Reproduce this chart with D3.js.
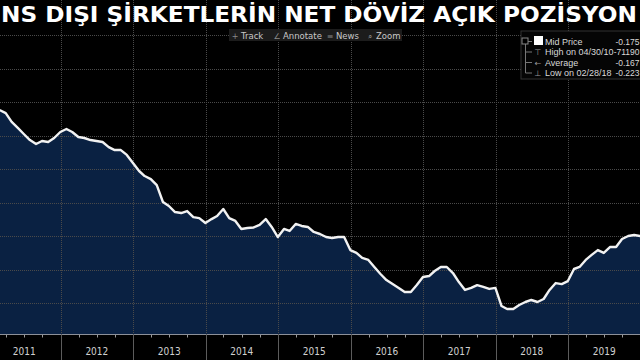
<!DOCTYPE html>
<html>
<head>
<meta charset="utf-8">
<script src="https://cdn.jsdelivr.net/npm/d3@7/dist/d3.min.js"></script>
<style>
html,body{margin:0;padding:0;background:#000;overflow:hidden;}
svg{display:block;}
</style>
</head>
<body>
<svg id="chart" width="640" height="360"></svg>
<script>
// ---- data (billion USD, month-end) ----
const titleText = "NS DIŞI ŞİRKETLERİN NET DÖVİZ AÇIK POZİSYON";
const months = [
 "2011-01","2011-02","2011-03","2011-04","2011-05","2011-06","2011-07","2011-08","2011-09","2011-10","2011-11","2011-12",
 "2012-01","2012-02","2012-03","2012-04","2012-05","2012-06","2012-07","2012-08","2012-09","2012-10","2012-11","2012-12",
 "2013-01","2013-02","2013-03","2013-04","2013-05","2013-06","2013-07","2013-08","2013-09","2013-10","2013-11","2013-12",
 "2014-01","2014-02","2014-03","2014-04","2014-05","2014-06","2014-07","2014-08","2014-09","2014-10","2014-11","2014-12",
 "2015-01","2015-02","2015-03","2015-04","2015-05","2015-06","2015-07","2015-08","2015-09","2015-10","2015-11","2015-12",
 "2016-01","2016-02","2016-03","2016-04","2016-05","2016-06","2016-07","2016-08","2016-09","2016-10","2016-11","2016-12",
 "2017-01","2017-02","2017-03","2017-04","2017-05","2017-06","2017-07","2017-08","2017-09","2017-10","2017-11","2017-12",
 "2018-01","2018-02","2018-03","2018-04","2018-05","2018-06","2018-07","2018-08","2018-09","2018-10","2018-11","2018-12",
 "2019-01","2019-02","2019-03","2019-04","2019-05","2019-06","2019-07","2019-08","2019-09","2019-10","2019-11","2019-12"
];
const values = [
 -103.0,-104.8,-106.6,-111.9,-115.5,-119.1,-122.7,-125.1,-123.3,-123.9,-121.5,-117.9,
 -116.1,-117.9,-120.9,-121.5,-122.7,-123.3,-123.9,-126.9,-128.7,-128.7,-131.6,-136.4,
 -141.2,-144.2,-146.0,-149.6,-159.7,-162.1,-165.7,-166.3,-165.1,-168.7,-169.3,-172.2,
 -169.9,-168.1,-163.9,-169.3,-171.0,-175.8,-175.2,-174.9,-173.4,-169.9,-174.6,-180.6,
 -175.8,-177.0,-172.8,-174.0,-174.6,-177.6,-178.8,-180.6,-181.2,-180.6,-180.6,-188.4,
 -190.1,-193.1,-194.3,-198.5,-202.7,-206.3,-208.7,-211.0,-213.4,-213.4,-209.3,-204.5,
 -203.9,-200.9,-198.5,-198.5,-202.1,-207.5,-212.2,-211.0,-209.3,-210.4,-211.6,-211.0,
 -221.8,-223.6,-223.6,-221.2,-219.4,-218.2,-219.4,-217.6,-212.2,-208.1,-208.7,-206.9,
 -199.7,-198.5,-194.3,-191.3,-188.4,-190.1,-186.6,-186.6,-181.8,-180.0,-179.4,-180.0
];
const yearLabels = ["2011","2012","2013","2014","2015","2016","2017","2018","2019"];
const gridValues = [-60,-80,-100,-120,-140,-160,-180,-200,-220];
const toolbarItems = [
 {icon:"+", label:"Track"},
 {icon:"\u2220", label:"Annotate"},
 {icon:"\u2261", label:"News"},
 {icon:"\u2315", label:"Zoom"}
];
const legendRows = [
 {label:"Mid Price", value:"-0.175"},
 {label:"High on 04/30/10", value:"-71190"},
 {label:"Average", value:"-0.167"},
 {label:"Low on 02/28/18", value:"-0.223"}
];

// ---- layout ----
const W = 640, H = 360;
const plotTop = 0, plotBottom = 334;
const svg = d3.select("#chart");

const parse = s => { const [yy, mm] = s.split("-").map(Number); return new Date(yy, mm, 0); };
const data = months.map((m, i) => ({date: parse(m), value: values[i]}));

const x = d3.scaleTime()
  .domain([new Date(2012,0,1), new Date(2020,0,1)])
  .range([60.5, 640.5]);
const y = d3.scaleLinear().domain([-220, -60]).range([303, 35]);

svg.append("rect").attr("width", W).attr("height", H).attr("fill", "#000");

svg.append("defs").append("clipPath").attr("id","plotclip")
  .append("rect").attr("x",0).attr("y",plotTop).attr("width",W).attr("height",plotBottom-plotTop);

const plot = svg.append("g").attr("clip-path","url(#plotclip)");

// area
plot.append("path").datum(data)
  .attr("fill","#0a2142")
  .attr("d", d3.area().x(d => x(d.date)).y0(plotBottom).y1(d => y(d.value)));

// grid
const yearStarts = d3.range(2011, 2021).map(yy => new Date(yy,0,1));
plot.selectAll("line.hg").data(gridValues).enter().append("line")
  .attr("x1",0).attr("x2",W)
  .attr("y1", d => Math.round(y(d))+0.5).attr("y2", d => Math.round(y(d))+0.5)
  .attr("stroke","#4a4a4a").attr("stroke-width",1).attr("stroke-dasharray","1,1");
plot.selectAll("line.vg").data(yearStarts).enter().append("line")
  .attr("x1", d => Math.round(x(d))+0.5).attr("x2", d => Math.round(x(d))+0.5)
  .attr("y1",plotTop).attr("y2",plotBottom)
  .attr("stroke","#4a4a4a").attr("stroke-width",1).attr("stroke-dasharray","1,1");

// line
plot.append("path").datum(data)
  .attr("fill","none").attr("stroke","#f2f2f2").attr("stroke-width",2.4)
  .attr("stroke-linejoin","round")
  .attr("d", d3.line().x(d => x(d.date)).y(d => y(d.value)));

// x axis
const axisG = svg.append("g");
axisG.append("line").attr("x1",0).attr("x2",W).attr("y1",plotBottom+0.5).attr("y2",plotBottom+0.5)
  .attr("stroke","#8c9099").attr("stroke-width",1);
const quarterTicks = [];
yearStarts.forEach(d => { [3,6,9].forEach(m => quarterTicks.push(new Date(d.getFullYear(), m, 1))); });
axisG.selectAll("line.qt").data(quarterTicks).enter().append("line")
  .attr("x1", d => Math.round(x(d))+0.5).attr("x2", d => Math.round(x(d))+0.5)
  .attr("y1", plotBottom+1).attr("y2", plotBottom+3.5)
  .attr("stroke","#9a9a9a");
axisG.selectAll("line.ys").data(yearStarts).enter().append("line")
  .attr("x1", d => Math.round(x(d))+0.5).attr("x2", d => Math.round(x(d))+0.5)
  .attr("y1", plotBottom).attr("y2", H)
  .attr("stroke","#5c5c5c");
axisG.selectAll("text.yl").data(yearLabels).enter().append("text")
  .attr("x", d => x(new Date(+d, 6, 2)))
  .attr("y", 355)
  .attr("text-anchor","middle")
  .attr("fill","#d0d0d0")
  .attr("font-family","'Liberation Sans Narrow','Arial Narrow','DejaVu Sans Condensed',sans-serif")
  .attr("font-size",10)
  .text(d => d);

// title
svg.append("text")
  .attr("x", 1).attr("y", 22)
  .attr("fill","#ffffff")
  .attr("font-family","'DejaVu Sans',Verdana,sans-serif")
  .attr("font-weight","bold")
  .attr("font-size",21)
  .attr("textLength",636).attr("lengthAdjust","spacingAndGlyphs")
  .text(titleText);

// toolbar
const tb = svg.append("g");
tb.append("rect").attr("x",229).attr("y",29).attr("width",173).attr("height",12)
  .attr("fill","#1c1c1c");
const tbX = [235, 277, 330, 370];
toolbarItems.forEach((it, i) => {
  tb.append("text").attr("x", tbX[i]).attr("y", 38.5).attr("fill","#8a8a8a")
    .attr("font-family","'DejaVu Sans',sans-serif").attr("font-size",8).attr("text-anchor","middle")
    .text(it.icon);
  tb.append("text").attr("x", tbX[i]+6).attr("y", 38.5).attr("fill","#c8c8c8")
    .attr("font-family","'DejaVu Sans',sans-serif").attr("font-size",8.5)
    .text(it.label);
});

// legend
const lg = svg.append("g");
lg.append("rect").attr("x",521).attr("y",31).attr("width",125).attr("height",48)
  .attr("fill","#050505").attr("stroke","#333");
lg.append("line").attr("x1",525.5).attr("x2",525.5).attr("y1",40).attr("y2",73).attr("stroke","#777");
const rowY = [41, 51.5, 62, 72.5];
const lgFont = "'Liberation Sans',Arial,sans-serif";
legendRows.forEach((r, i) => {
  lg.append("line").attr("x1",525.5).attr("x2",532).attr("y1",rowY[i]+0.5).attr("y2",rowY[i]+0.5).attr("stroke","#777");
  if (i === 0) {
    lg.append("rect").attr("x",522).attr("y",rowY[i]-3).attr("width",6).attr("height",6)
      .attr("fill","#000").attr("stroke","#888");
    lg.append("rect").attr("x",534).attr("y",rowY[i]-5).attr("width",9).attr("height",9).attr("fill","#fff");
  } else {
    const sym = i === 1 ? "\u22A4" : (i === 2 ? "\u2190" : "\u22A5");
    lg.append("text").attr("x",538).attr("y",rowY[i]+3.5).attr("fill","#9a9a9a")
      .attr("font-family","'DejaVu Sans',sans-serif").attr("font-size",8).attr("text-anchor","middle").text(sym);
  }
  lg.append("text").attr("x",545).attr("y",rowY[i]+3.5).attr("fill","#d8d8d8")
    .attr("font-family",lgFont).attr("font-size",9).text(r.label);
  lg.append("text").attr("x",639.5).attr("y",rowY[i]+3.5).attr("fill","#d8d8d8")
    .attr("text-anchor","end")
    .attr("font-family",lgFont).attr("font-size",8.5).text(r.value);
});
</script>
</body>
</html>
